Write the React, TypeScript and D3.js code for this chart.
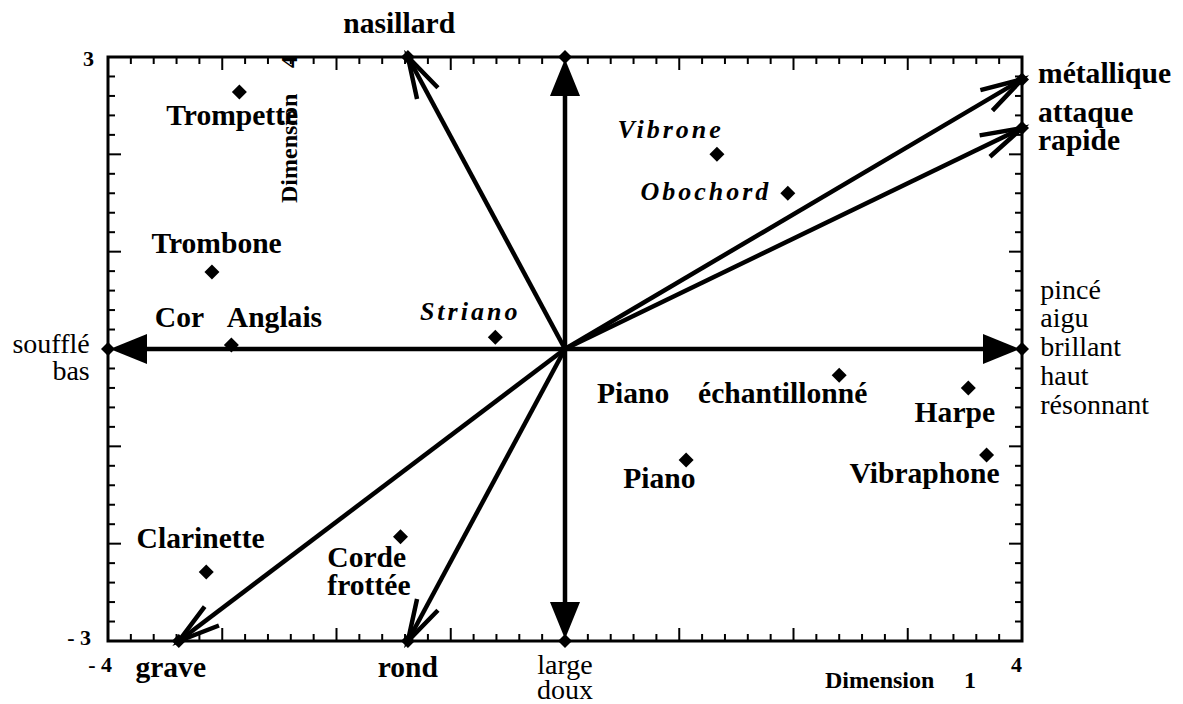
import React from 'react';
import * as d3 from 'd3';

// instrument positions in the (Dimension 1, Dimension 4) plane
const instruments = ['Trompette', 'Trombone', 'Cor Anglais', 'Striano', 'Vibrone', 'Obochord', 'Piano échantillonné', 'Harpe', 'Vibraphone', 'Piano', 'Corde frottée', 'Clarinette'];
const dim1 = [-2.85, -3.09, -2.92, -0.61, 1.33, 1.95, 2.4, 3.53, 3.69, 1.06, -1.44, -3.14];
const dim4 = [2.64, 0.79, 0.04, 0.12, 2.0, 1.6, -0.27, -0.4, -1.09, -1.14, -1.93, -2.29];

// verbal attribute vectors
const vectorNames = ['nasillard', 'métallique', 'attaque rapide', 'grave', 'rond', 'pincé', 'soufflé', 'large doux', 'haut'];
const vectorX = [-1.375, 4, 4, -3.38, -1.375, 4, -4, 0, 0];
const vectorY = [3, 2.77, 2.27, -3, -3, 0, 0, -3, 3];
const vectorHead = ['open', 'open', 'open', 'open', 'open', 'filled', 'filled', 'filled', 'filled'];

// text labels: [text, dim1, dim4, kind, anchor]
const labels: [string, number, number, string, string][] = [
  ['Trompette', -3.49, 2.3, 'b', 'start'],
  ['Trombone', -3.62, 0.99, 'b', 'start'],
  ['Cor', -3.59, 0.23, 'b', 'start'],
  ['Anglais', -2.96, 0.23, 'b', 'start'],
  ['Striano', -1.27, 0.3, 'i', 'start'],
  ['Vibrone', 0.46, 2.17, 'i', 'start'],
  ['Obochord', 0.66, 1.53, 'i', 'start'],
  ['Piano', 0.28, -0.555, 'b', 'start'],
  ['échantillonné', 1.165, -0.555, 'b', 'start'],
  ['Harpe', 3.06, -0.75, 'b', 'start'],
  ['Vibraphone', 2.49, -1.38, 'b', 'start'],
  ['Piano', 0.51, -1.43, 'b', 'start'],
  ['Corde', -2.08, -2.24, 'b', 'start'],
  ['frottée', -2.08, -2.53, 'b', 'start'],
  ['Clarinette', -3.75, -2.04, 'b', 'start'],
  ['nasillard', -1.94, 3.25, 'b', 'start'],
  ['métallique', 4.14, 2.73, 'b', 'start'],
  ['attaque', 4.14, 2.33, 'b', 'start'],
  ['rapide', 4.14, 2.045, 'b', 'start'],
  ['grave', -3.76, -3.37, 'b', 'start'],
  ['rond', -1.64, -3.37, 'b', 'start'],
  ['large', 0, -3.34, 'r', 'middle'],
  ['doux', 0, -3.6, 'r', 'middle'],
  ['soufflé', -4.16, -0.04, 'r', 'end'],
  ['bas', -4.16, -0.32, 'r', 'end'],
  ['pincé', 4.16, 0.51, 'r', 'start'],
  ['aigu', 4.16, 0.226, 'r', 'start'],
  ['brillant', 4.16, -0.072, 'r', 'start'],
  ['haut', 4.16, -0.37, 'r', 'start'],
  ['résonnant', 4.16, -0.67, 'r', 'start'],
];

const W = 1183;
const H = 704;
const FONT = '"Liberation Serif", "Times New Roman", Times, serif';

const x = d3.scaleLinear().domain([-4, 4]).range([108, 1022]);
const y = d3.scaleLinear().domain([-3, 3]).range([641, 57]);

const diamond = (cx: number, cy: number, r: number) =>
  `M${cx},${cy - r}L${cx + r},${cy}L${cx},${cy + r}L${cx - r},${cy}Z`;

const Arrow = ({ vx, vy, head }: { vx: number; vy: number; head: string }) => {
  const x0 = x(0), y0 = y(0);
  const x1 = x(vx), y1 = y(vy);
  const len = Math.hypot(x1 - x0, y1 - y0);
  const ux = (x1 - x0) / len, uy = (y1 - y0) / len;
  if (head === 'filled') {
    const tx = x1 - ux * 2, ty = y1 - uy * 2;
    const bx = tx - ux * 37, by = ty - uy * 37;
    const px = -uy * 15, py = ux * 15;
    return (
      <g>
        <line x1={x0} y1={y0} x2={bx + ux * 2} y2={by + uy * 2} stroke="#000" strokeWidth={4.5} />
        <path d={`M${tx},${ty}L${bx + px},${by + py}L${bx - px},${by - py}Z`} fill="#000" />
      </g>
    );
  }
  const a = (16 * Math.PI) / 180;
  const wing = (s: number) => {
    const c = Math.cos(s * a), n = Math.sin(s * a);
    const wx = -(ux * c - uy * n), wy = -(ux * n + uy * c);
    return [x1 + wx * 43, y1 + wy * 43];
  };
  const [ax, ay] = wing(1);
  const [bx, by] = wing(-1);
  return (
    <g fill="none" stroke="#000" strokeWidth={4.5}>
      <line x1={x0} y1={y0} x2={x1} y2={y1} />
      <path d={`M${ax},${ay}L${x1},${y1}L${bx},${by}`} strokeLinejoin="miter" />
    </g>
  );
};

export default function App() {
  const xt = d3.range(-20, 21);
  const yt = d3.range(-15, 16);
  const [xl, xr] = x.range();
  const [yb, ytop] = y.range();

  return (
    <svg width={W} height={H} style={{ position: 'absolute', left: 0, top: 0, background: '#fff' }} fontFamily={FONT}>
      <rect x={0} y={0} width={W} height={H} fill="#fff" />

      {/* ticks on all four sides, pointing inwards */}
      <g stroke="#000" strokeWidth={2}>
        {xt.map(i => {
          const px = x(i / 5);
          const l = i % 5 === 0 ? 13 : 7;
          return (
            <g key={'xt' + i}>
              <line x1={px} x2={px} y1={ytop} y2={ytop + l} />
              <line x1={px} x2={px} y1={yb} y2={yb - l} />
            </g>
          );
        })}
        {yt.map(i => {
          const py = y(i / 5);
          const l = i % 5 === 0 ? 13 : 7;
          return (
            <g key={'yt' + i}>
              <line x1={xl} x2={xl + l} y1={py} y2={py} />
              <line x1={xr} x2={xr - l} y1={py} y2={py} />
            </g>
          );
        })}
      </g>
      <rect x={xl} y={ytop} width={xr - xl} height={yb - ytop} fill="none" stroke="#000" strokeWidth={3} />

      {/* tick labels */}
      <g fontWeight="bold" fontSize={22} textAnchor="end">
        <text x={xl - 14} y={ytop + 9}>3</text>
        <text x={xl - 17} y={yb + 4}>- 3</text>
        <text x={xl + 4} y={yb + 31}>- 4</text>
        <text x={xr} y={yb + 31}>4</text>
      </g>

      {/* axis titles */}
      <g fontWeight="bold" fontSize={24}>
        <text x={825} y={688}>Dimension</text>
        <text x={964} y={688}>1</text>
        <text transform="translate(297,203) rotate(-90)">Dimension</text>
        <text transform="translate(297,68) rotate(-90)">4</text>
      </g>

      {/* attribute vectors */}
      {vectorNames.map((n, i) => (
        <Arrow key={'v' + i} vx={vectorX[i]} vy={vectorY[i]} head={vectorHead[i]} />
      ))}
      {vectorNames.map((n, i) => (
        <path key={'vd' + i} d={diamond(x(vectorX[i]), y(vectorY[i]), 7)} fill="#000" />
      ))}

      {/* instruments */}
      {instruments.map((n, i) => (
        <path key={'p' + i} d={diamond(x(dim1[i]), y(dim4[i]), 7.5)} fill="#000" />
      ))}

      {labels.map(([t, lx, ly, kind, anchor], i) => (
        <text
          key={'l' + i}
          transform={`translate(${x(lx)},${y(ly)}) scale(${kind === 'b' ? 1.02 : 1},1)`}
          textAnchor={anchor}
          fontSize={kind === 'r' ? 28 : kind === 'i' ? 26 : 29}
          fontWeight={kind === 'r' ? 'normal' : 'bold'}
          fontStyle={kind === 'i' ? 'italic' : 'normal'}
          letterSpacing={kind === 'i' ? 3 : 0}
        >
          {t}
        </text>
      ))}
    </svg>
  );
}
